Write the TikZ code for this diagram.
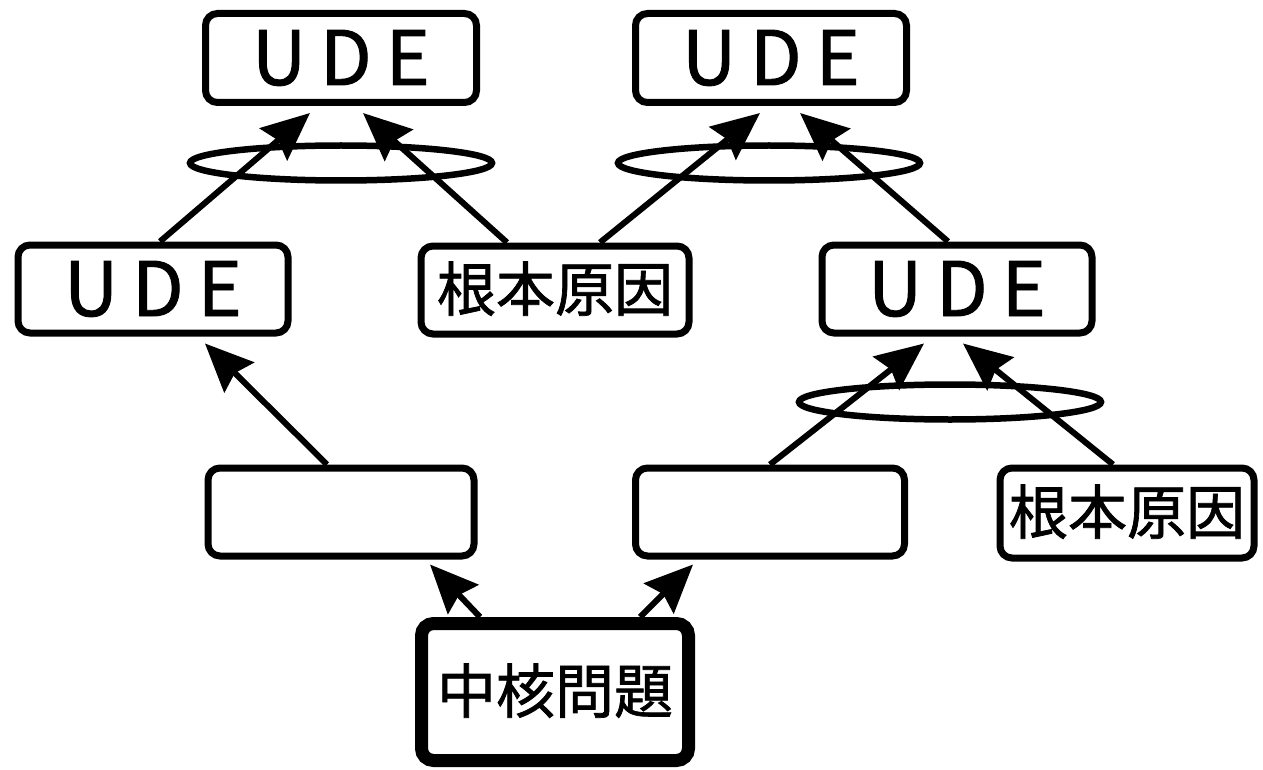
\documentclass[tikz,border=0pt]{standalone}
\usepackage{fontspec}
\setmainfont{Noto Sans CJK JP}
\newfontfamily\heavyfont{Noto Sans CJK JP}[FakeBold=1.2]
\usetikzlibrary{shapes.geometric,arrows.meta}
\begin{document}
\begin{tikzpicture}[x=1pt,y=-1pt,
  box/.style={draw,line width=7pt,rounded corners=12pt,fill=white,inner sep=0pt,
    minimum width=268pt,minimum height=88pt},
  udet/.style={font=\heavyfont\fontsize{75}{80}\selectfont,text height=54pt,text depth=0pt},
  cjkt/.style={font=\heavyfont\fontsize{59}{64}\selectfont,text height=48pt,text depth=6pt},
  ring/.style={draw,ellipse,line width=6.5pt,inner sep=0pt,minimum width=302pt,minimum height=35pt},
  arr/.style={line width=6pt,-{Stealth[length=48pt,width=42pt,inset=6pt]}}]
\useasboundingbox (0,0) rectangle (1263,770);
% groups (ellipses)
\node[ring] (g1) at (341,163) {};
\node[ring] (g2) at (769,163) {};
\node[ring] (g3) at (950,402) {};
% boxes
\node[box,udet,minimum width=271pt,minimum height=89pt] (udeTL) at (341,58) {U\kern14pt D\kern14pt E};
\node[box,udet,minimum width=271pt,minimum height=89pt] (udeTR) at (771,58) {U\kern14pt D\kern14pt E};
\node[box,udet,minimum width=270pt] (udeL) at (153,289) {U\kern14pt D\kern14pt E};
\node[box,cjkt] (rcM) at (555,290) {根本原因};
\node[box,udet,minimum width=270pt] (udeR) at (957,289) {U\kern14pt D\kern14pt E};
\node[box,minimum width=266pt] (emL) at (341,512) {};
\node[box,minimum width=269pt] (emM) at (770,512) {};
\node[box,cjkt,minimum width=254pt,minimum height=90pt] (rcR) at (1127,513) {根本原因};
\node[box,cjkt,line width=13pt,minimum width=267pt,minimum height=137pt] (core) at (555,692) {中核問題};
% connectors
\draw[arr] ([xshift=7pt]udeL.north) -- ([xshift=-31pt,yshift=-7pt]udeTL.south);
\draw[arr] ([xshift=-48pt]rcM.north) -- ([xshift=22pt,yshift=-7pt]udeTL.south);
\draw[arr] ([xshift=45pt]rcM.north) -- ([xshift=-11pt,yshift=-7pt]udeTR.south);
\draw[arr] ([xshift=-9pt]udeR.north) -- ([xshift=29pt,yshift=-7pt]udeTR.south);
\draw[arr] ([xshift=-14pt]emL.north) -- ([xshift=52pt,yshift=-7pt]udeL.south);
\draw[arr] (emM.north) -- ([xshift=-33pt,yshift=-7pt]udeR.south);
\draw[arr] ([xshift=-14pt]rcR.north) -- ([xshift=6pt,yshift=-7pt]udeR.south);
\draw[arr] ([xshift=-75pt]core.north) -- ([xshift=89pt,yshift=-5pt]emL.south);
\draw[arr] ([xshift=85pt]core.north) -- ([xshift=-77pt,yshift=-5pt]emM.south);
\end{tikzpicture}
\end{document}
